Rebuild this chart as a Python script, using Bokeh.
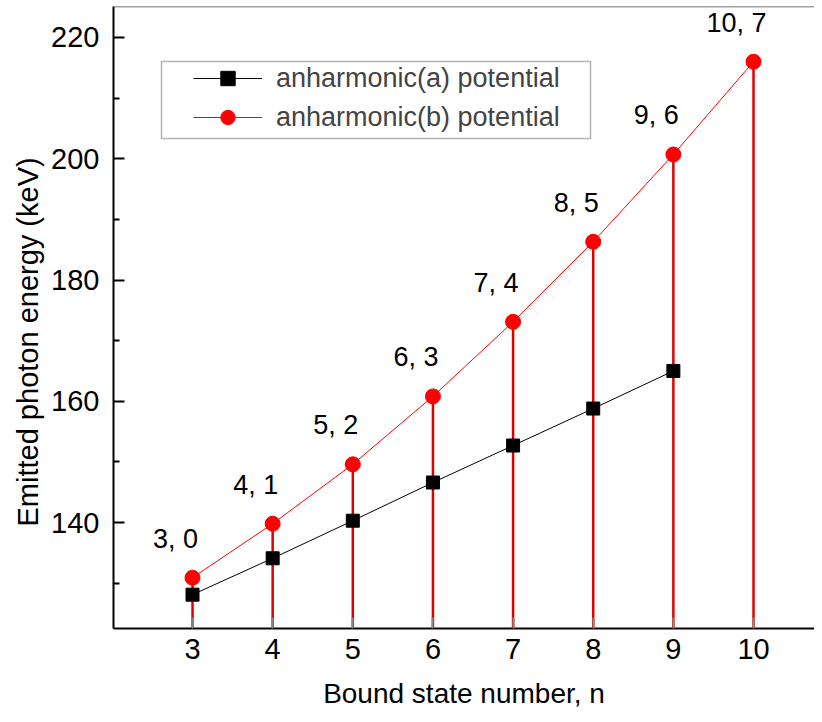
from bokeh.plotting import figure
from bokeh.models import Range1d, Legend, LegendItem, BoxAnnotation, Span, FixedTicker, Title
from bokeh.core.properties import value
from bokeh.embed import file_html
from bokeh.resources import INLINE

# ---- data ----
n_a = [3, 4, 5, 6, 7, 8, 9]
energy_a = [128.1, 134.1, 140.3, 146.6, 152.7, 158.8, 165.0]
n_b = [3, 4, 5, 6, 7, 8, 9, 10]
energy_b = [130.9, 139.8, 149.6, 160.8, 173.1, 186.3, 200.7, 216.0]
labels_b = ["3, 0", "4, 1", "5, 2", "6, 3", "7, 4", "8, 5", "9, 6", "10, 7"]
x_ticks = [3, 4, 5, 6, 7, 8, 9, 10]
y_ticks = [140, 160, 180, 200, 220]
y_minor = [130, 150, 170, 190, 210]
x_title = "Bound state number, n"
y_title = "Emitted photon energy (keV)"

Y0, Y1 = 122.52, 225.11
X0, X1 = 2.014, 10.761
FONT = "Liberation Sans"

p = figure(width=814, height=714, x_range=Range1d(X0, X1), y_range=Range1d(Y0, Y1),
           output_backend="svg", toolbar_location=None,
           min_border_left=113, min_border_right=0, min_border_top=6, min_border_bottom=86)
p.outline_line_color = None
p.grid.visible = False
p.background_fill_color = "white"

# stems
p.segment(x0=n_b, y0=[Y0] * len(n_b), x1=n_b, y1=energy_b, line_color="#e00000", line_width=2.5)

la = p.line(n_a, energy_a, line_color="black", line_width=1)
sa = p.scatter(n_a, energy_a, marker="square", size=13, fill_color="black", line_color="black")
lb = p.line(n_b, energy_b, line_color="#ff0000", line_width=1)
sb = p.scatter(n_b, energy_b, marker="circle", size=15, fill_color="#ff0000", line_color="#ff0000")

p.text(x=n_b, y=energy_b, text=labels_b, x_offset=-17, y_offset=-39,
       text_align="center", text_baseline="middle",
       text_font=value(FONT), text_font_size="27px", text_color="black")

# axes
for ax in (p.xaxis[0], p.yaxis[0]):
    ax.axis_line_width = 2
    ax.axis_line_color = "black"
    ax.major_tick_in = 11
    ax.major_tick_out = 0
    ax.minor_tick_in = 6
    ax.minor_tick_out = 0
    ax.major_tick_line_width = 2
    ax.minor_tick_line_width = 2
    ax.major_label_text_font = FONT
    ax.major_label_text_font_size = "29px"
    ax.major_label_text_color = "black"

p.xaxis.ticker = FixedTicker(ticks=x_ticks)
p.yaxis.ticker = FixedTicker(ticks=y_ticks, minor_ticks=y_minor)
p.xaxis.major_tick_line_color = "#888888"
p.xaxis.major_label_standoff = 10
p.yaxis.major_label_standoff = 14

p.xaxis.axis_label = x_title
p.xaxis.axis_label_text_font = FONT
p.xaxis.axis_label_text_font_size = "28px"
p.xaxis.axis_label_text_font_style = "normal"
p.xaxis.axis_label_text_color = "black"
p.xaxis.axis_label_standoff = 16

# y title placed off-centre like the reference
p.add_layout(Title(text=y_title, align="left", vertical_align="bottom", offset=102, standoff=10,
                   text_font=FONT, text_font_size="29px", text_font_style="normal",
                   text_color="black"), "left")

# top frame line
p.add_layout(Span(location=Y1, dimension="width", line_color="#444444", line_width=1.5))

# legend box
p.add_layout(BoxAnnotation(left=48, right=477, top=567, bottom=490,
                           left_units="screen", right_units="screen",
                           top_units="screen", bottom_units="screen",
                           fill_color=None, line_color="black", line_width=1.5))

legend = Legend(items=[LegendItem(label="anharmonic(a) potential", renderers=[la, sa]),
                       LegendItem(label="anharmonic(b) potential", renderers=[lb, sb])],
                location=(80, 493), padding=0, spacing=3, margin=0,
                glyph_width=69, glyph_height=36, label_height=36, label_standoff=14,
                label_text_font=FONT, label_text_font_size="27px",
                border_line_color=None, background_fill_alpha=0)
p.add_layout(legend)

open("out.html", "w").write(file_html(p, INLINE))
